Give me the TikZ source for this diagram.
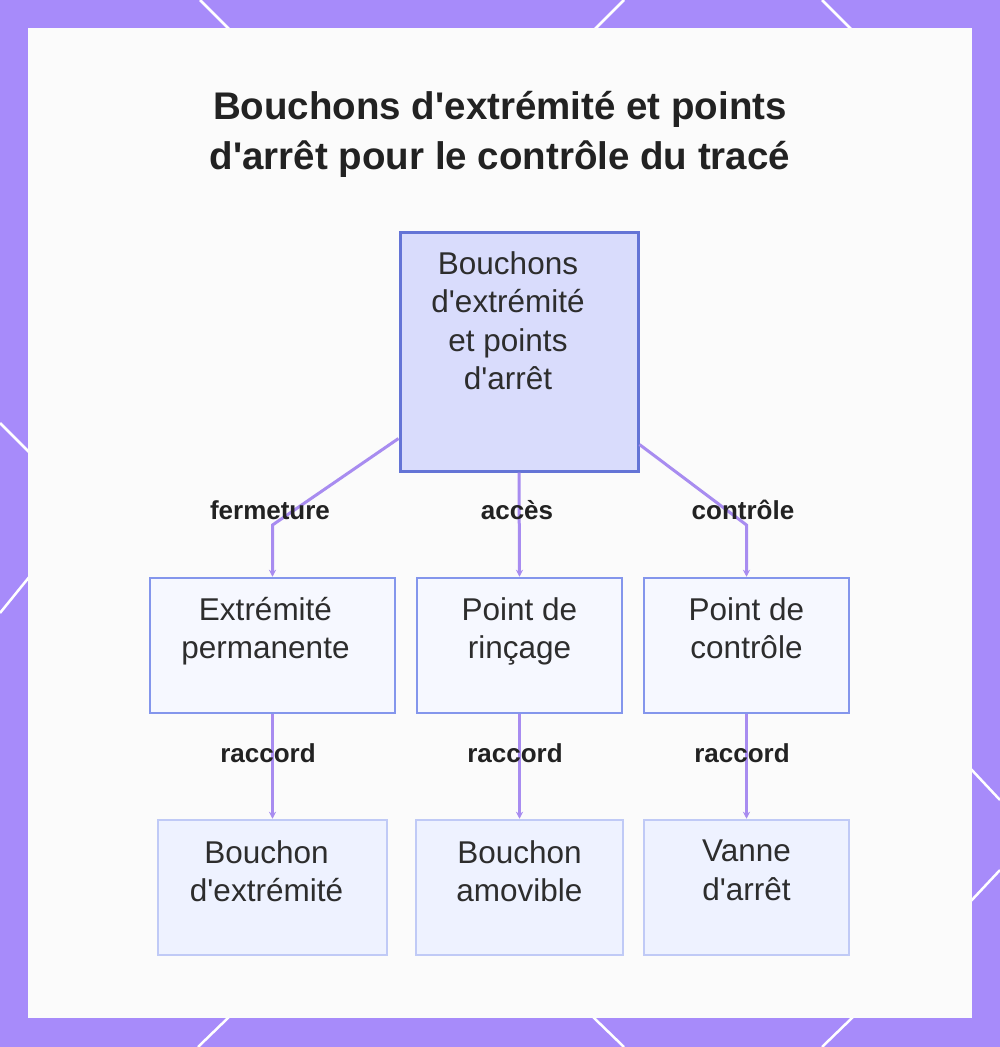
\documentclass[tikz,border=0pt]{standalone}
\usepackage{fontspec}
\setmainfont{Liberation Sans}[Ligatures=TeXOff]
\usetikzlibrary{arrows.meta}
\definecolor{frame}{RGB}{167,139,250}
\definecolor{panel}{RGB}{251,251,251}
\definecolor{titlec}{RGB}{34,34,34}
\definecolor{txtc}{RGB}{45,45,45}
\definecolor{mainfill}{RGB}{217,220,252}
\definecolor{maindraw}{RGB}{100,116,214}
\definecolor{midfill}{RGB}{246,248,255}
\definecolor{middraw}{RGB}{132,150,236}
\definecolor{lowfill}{RGB}{238,242,255}
\definecolor{lowdraw}{RGB}{192,202,246}
\definecolor{edgec}{RGB}{168,140,240}
\tikzset{
  mainbox/.style={draw=maindraw, fill=mainfill, line width=3pt, minimum width=238pt, minimum height=239pt, inner sep=0pt},
  midbox/.style={draw=middraw, fill=midfill, line width=2.5pt, minimum height=135pt, inner sep=0pt},
  lowbox/.style={draw=lowdraw, fill=lowfill, line width=2.5pt, minimum height=135pt, inner sep=0pt},
  txt/.style={text=txtc, align=center, inner sep=0pt, anchor=north, font=\fontsize{31.5}{38.5}\selectfont},
  lbl/.style={text=titlec, inner sep=0pt, anchor=base, font=\bfseries\fontsize{26}{30}\selectfont},
  edge/.style={draw=edgec, line width=3pt, -{Stealth[length=7pt,width=7pt]}},
  wline/.style={draw=white, line width=2.5pt}
}
\begin{document}
\begin{tikzpicture}[x=1pt,y=-1pt]
\useasboundingbox (0,0) rectangle (1000,1047);
\fill[frame] (0,0) rectangle (1000,1047);
% white accent lines on the frame
\draw[wline] (200,0) -- (230,30);
\draw[wline] (624,0) -- (594,30);
\draw[wline] (822,0) -- (852,30);
\draw[wline] (230,1016) -- (198,1047);
\draw[wline] (592,1016) -- (624,1047);
\draw[wline] (854,1016) -- (822,1047);
\draw[wline] (0,423) -- (30,453);
\draw[wline] (30,576) -- (0,613);
\draw[wline] (970,768) -- (1000,800);
\draw[wline] (1000,870) -- (970,902);
\fill[panel] (28,28) rectangle (972,1018);

% title
\node[text=titlec, align=center, inner sep=0pt, anchor=base, font=\bfseries\fontsize{38.5}{50}\selectfont] (title) at (500,169) {Bouchons d'extrémité et points\\d'arrêt pour le contrôle du tracé};

% boxes
\node[mainbox] (main) at (519,351.5) {};
\node[midbox, minimum width=245pt] (lft) at (272.5,645.5) {};
\node[midbox, minimum width=205pt] (mid) at (519.5,645.5) {};
\node[midbox, minimum width=205pt] (rgt) at (746.5,645.5) {};
\node[lowbox, minimum width=229pt] (lftb) at (272.5,887.5) {};
\node[lowbox, minimum width=207pt] (midb) at (519.5,887.5) {};
\node[lowbox, minimum width=205pt] (rgtb) at (746.5,887.5) {};

% box texts
\node[txt] (mainT) at ([xshift=-11pt]main.north |- 0,251) {Bouchons\\d'extrémité\\et points\\d'arrêt};
\node[txt] (lftT) at ([xshift=-7pt]lft.north |- 0,597) {Extrémité\\permanente};
\node[txt] (midT) at (mid.north |- 0,597) {Point de\\rinçage};
\node[txt] (rgtT) at (rgt.north |- 0,597) {Point de\\contrôle};
\node[txt] (lftbT) at ([xshift=-6pt]lftb.north |- 0,840) {Bouchon\\d'extrémité};
\node[txt] (midbT) at (midb.north |- 0,840) {Bouchon\\amovible};
\node[txt] (rgtbT) at (rgtb.north |- 0,840) {Vanne\\d'arrêt};

% connectors
\coordinate (bendL) at (272.5,525);
\coordinate (bendR) at (746.5,525);
\draw[edge] ([yshift=34pt]main.south west) -- (bendL) -- (lft.north);
\draw[edge] (main.south) -- (mid.north);
\draw[edge] ([yshift=28pt]main.south east) -- (bendR) -- (rgt.north);
\draw[edge] (lft.south) -- (lftb.north);
\draw[edge] (mid.south) -- (midb.north);
\draw[edge] (rgt.south) -- (rgtb.north);

% connector labels
\node[lbl] (l1) at (270,519) {fermeture};
\node[lbl] (l2) at (517,519) {accès};
\node[lbl] (l3) at (743,519) {contrôle};
\node[lbl] (l4) at (268,762) {raccord};
\node[lbl] (l5) at (515,762) {raccord};
\node[lbl] (l6) at (742,762) {raccord};
\end{tikzpicture}
\end{document}
